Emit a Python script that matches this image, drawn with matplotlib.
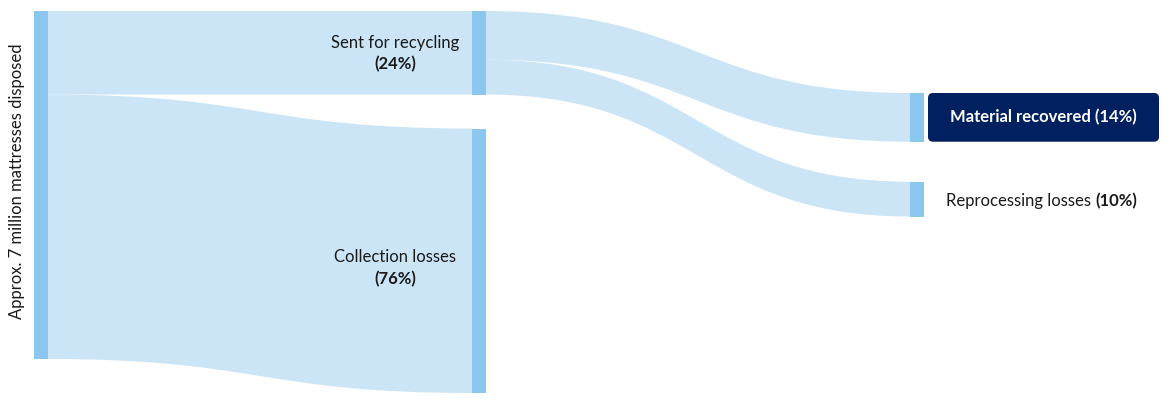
import matplotlib
matplotlib.use("Agg")
import matplotlib.pyplot as plt
from matplotlib.path import Path
from matplotlib.patches import PathPatch, Rectangle, FancyBboxPatch

# Flow shares (percent of mattresses disposed)
total = 100
stage1_names = ["Sent for recycling", "Collection losses"]
stage1_values = [24, 76]
stage2_names = ["Material recovered", "Reprocessing losses"]
stage2_values = [14, 10]
source_label = "Approx. 7 million mattresses disposed"

NODE_COLOR = "#8AC6EE"
FLOW_COLOR = "#CBE5F6"
DARK = "#002060"
TEXT = "#1a1a1a"
FONT = ["Lato", "DejaVu Sans"]

W, H = 1161, 399
fig = plt.figure(figsize=(W / 100, H / 100), dpi=100)
ax = fig.add_axes([0, 0, 1, 1])
ax.set_xlim(0, W)
ax.set_ylim(H, 0)
ax.axis("off")

# layout (pixel units)
scale = 348 / total
node_w = 13.5
col_x = [34, 472, 910]
top0 = 11
gap1 = 34
top2 = 93
gap2 = 40


def flow(x0, y0a, y0b, x1, y1a, y1b):
    xm = (x0 + x1) / 2
    verts = [(x0, y0a), (xm, y0a), (xm, y1a), (x1, y1a),
             (x1, y1b), (xm, y1b), (xm, y0b), (x0, y0b), (x0, y0a)]
    codes = [Path.MOVETO, Path.CURVE4, Path.CURVE4, Path.CURVE4,
             Path.LINETO, Path.CURVE4, Path.CURVE4, Path.CURVE4, Path.CLOSEPOLY]
    ax.add_patch(PathPatch(Path(verts, codes), facecolor=FLOW_COLOR,
                           edgecolor="none", zorder=1))


def node(x, y, h):
    ax.add_patch(Rectangle((x, y), node_w, h, facecolor=NODE_COLOR,
                           edgecolor="none", zorder=2))


# source node
src_h = total * scale
node(col_x[0], top0, src_h)

# stage 1 nodes and flows from source
s1_tops = []
y = top0
src_y = top0
for v in stage1_values:
    h = v * scale
    s1_tops.append(y)
    flow(col_x[0] + node_w, src_y, src_y + h, col_x[1], y, y + h)
    node(col_x[1], y, h)
    src_y += h
    y += h + gap1

# stage 2 nodes and flows from "Sent for recycling"
s2_tops = []
y = top2
out_y = s1_tops[0]
for v in stage2_values:
    h = v * scale
    s2_tops.append(y)
    flow(col_x[1] + node_w, out_y, out_y + h, col_x[2], y, y + h)
    node(col_x[2], y, h)
    out_y += h
    y += h + gap2

# labels
fs = 12
ax.text(17, top0 + src_h / 2 - 4, source_label, rotation=90, ha="center",
        va="center", fontsize=fs, family=FONT, color=TEXT)

# stage 1 labels: name above, bold share below
label_offsets = [(32 - 24 * scale / 2, 53 - 24 * scale / 2), (-4, 18)]
for name, v, t, (dn, dp) in zip(stage1_names, stage1_values, s1_tops,
                                label_offsets):
    cy = t + v * scale / 2
    ax.text(395, cy + dn, name, ha="center", va="center", fontsize=fs,
            family=FONT, color=TEXT)
    ax.text(395, cy + dp, f"({v}%)", ha="center", va="center", fontsize=fs,
            family=FONT, fontweight="bold", color=TEXT)

# highlighted outcome box
h0 = stage2_values[0] * scale
box = FancyBboxPatch((928 + 5, s2_tops[0] + 5), 1159 - 928 - 10, h0 - 10,
                     boxstyle="round,pad=5", facecolor=DARK, edgecolor="none",
                     zorder=3)
ax.add_patch(box)
ax.text((928 + 1159) / 2, s2_tops[0] + h0 / 2,
        f"{stage2_names[0]} ({stage2_values[0]}%)", ha="center", va="center",
        fontsize=fs, family=FONT, fontweight="bold", color="white", zorder=4)

h1 = stage2_values[1] * scale
cy1 = s2_tops[1] + h1 / 2 + 2
t1 = ax.text(946, cy1, f"{stage2_names[1]} ", ha="left",
             va="center", fontsize=fs, family=FONT, color=TEXT)
fig.canvas.draw()
bb = t1.get_window_extent()
inv = ax.transData.inverted()
x_end = inv.transform((bb.x1, bb.y0))[0]
ax.text(x_end, cy1, f"({stage2_values[1]}%)", ha="left",
        va="center", fontsize=fs, family=FONT, fontweight="bold", color=TEXT)

fig.savefig("out.png", dpi=100)
